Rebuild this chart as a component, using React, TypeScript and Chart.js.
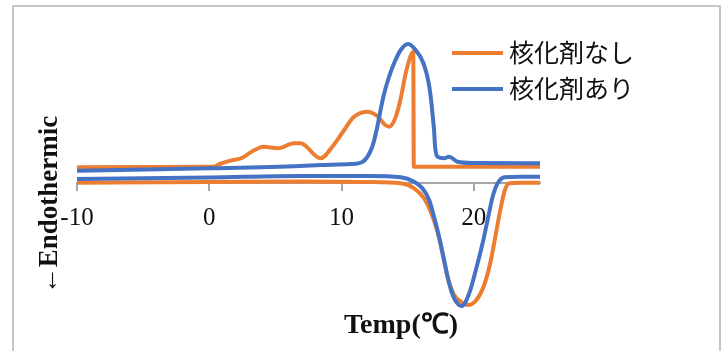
import React, { useEffect, useRef } from "react";
import { Chart, registerables } from "chart.js";

Chart.register(...registerables);

// ---- data (temperature in °C, heat flow in arbitrary units) ----
const SERIES_LABELS = ["核化剤なし", "核化剤あり"];
const X_TICKS = [-10, 0, 10, 20];
const X_TITLE = "Temp(℃)";
const Y_TITLE = "←Endothermic";

// 核化剤なし – cooling (upper) curve
const NO_COOL_T = [-10, 0.3, 0.8, 1.6, 2.5, 3.2, 4.1, 5.2, 6.4, 6.9, 8.4, 9.4, 10.2, 10.9, 11.95, 12.7, 13.3, 13.6, 14.1, 14.5, 14.85, 15.2, 15.42, 15.46, 18, 25];
const NO_COOL_V = [1.57, 1.63, 1.9, 2.23, 2.53, 3.13, 3.63, 3.47, 3.97, 3.97, 2.47, 3.8, 5.3, 6.57, 7.13, 6.7, 5.8, 5.63, 6.63, 8.63, 10.97, 12.63, 13.13, 1.63, 1.63, 1.63];

// 核化剤なし – heating (lower) curve
const NO_HEAT_T = [-10, 0, 6.9, 12, 14.47, 15.48, 16.24, 16.74, 17.25, 17.63, 18.01, 18.51, 19.02, 19.52, 20.15, 20.78, 21.29, 21.67, 22.05, 22.35, 22.67, 23.5, 25];
const NO_HEAT_V = [0.03, 0.1, 0.15, 0.1, -0.03, -0.53, -1.53, -2.87, -4.87, -7.03, -9.37, -11.2, -11.87, -12.2, -11.77, -10.2, -7.7, -5.03, -2.37, -0.7, -0.03, 0.03, 0.03];

// 核化剤あり – cooling (upper) curve
const WITH_COOL_T = [-10, 0, 6.9, 8.4, 10.7, 11.57, 12.32, 12.65, 12.9, 13.16, 13.51, 13.97, 14.47, 15.03, 15.6, 16.19, 16.54, 16.74, 16.87, 16.99, 17.07, 17.25, 17.75, 18.13, 18.77, 20, 25];
const WITH_COOL_V = [1.23, 1.47, 1.7, 1.8, 1.9, 2.1, 3.63, 5.3, 6.97, 8.63, 10.3, 11.97, 13.3, 13.9, 13.3, 11.97, 10.3, 8.63, 6.97, 5.3, 3.63, 2.63, 2.47, 2.63, 2.13, 2.0, 1.97];

// 核化剤あり – heating (lower) curve
const WITH_HEAT_T = [-10, 0, 6.9, 12, 14.47, 15.48, 16.11, 16.62, 16.99, 17.37, 17.75, 18.13, 18.51, 19.09, 19.65, 20.15, 20.66, 21.04, 21.42, 21.8, 22.3, 23.5, 25];
const WITH_HEAT_V = [0.4, 0.55, 0.7, 0.7, 0.57, 0.13, -0.53, -1.7, -3.37, -5.37, -7.7, -10.03, -11.53, -12.3, -11.03, -8.7, -6.03, -3.7, -1.37, -0.03, 0.57, 0.63, 0.63];

const ORANGE = "#ED7D31";
const BLUE = "#4472C4";
const COLORS = [ORANGE, BLUE];

const pts = (t: number[], v: number[]) => t.map((x, i) => ({ x, y: v[i] }));

const decoPlugin = {
  id: "deco",
  beforeDraw(chart: any) {
    const ctx = chart.ctx;
    ctx.save();
    ctx.fillStyle = "#ffffff";
    ctx.fillRect(0, 0, chart.width, chart.height);
    ctx.strokeStyle = "#c6c6c6";
    ctx.lineWidth = 2;
    ctx.strokeRect(13, 6, 707, 400);
    ctx.restore();
  },
  afterDraw(chart: any) {
    const ctx = chart.ctx;
    ctx.save();
    // legend
    const rows = [52, 88];
    SERIES_LABELS.forEach((label, i) => {
      ctx.strokeStyle = COLORS[i];
      ctx.lineWidth = 4;
      ctx.beginPath();
      ctx.moveTo(452, rows[i] + 1);
      ctx.lineTo(503, rows[i] + 1);
      ctx.stroke();
      ctx.fillStyle = "#111";
      ctx.font = '25px "Noto Sans CJK JP"';
      ctx.textAlign = "left";
      ctx.textBaseline = "middle";
      ctx.fillText(label, 509, rows[i]);
    });
    // x title
    ctx.fillStyle = "#111";
    ctx.font = 'bold 28px "Liberation Serif"';
    ctx.textAlign = "center";
    ctx.textBaseline = "middle";
    ctx.fillText(X_TITLE, 401, 326);
    // y title
    ctx.translate(50, 205);
    ctx.rotate(-Math.PI / 2);
    ctx.font = 'bold 27px "Liberation Serif"';
    ctx.fillText(Y_TITLE, 0, 0);
    ctx.restore();
  },
};

export default function App() {
  const ref = useRef<HTMLCanvasElement | null>(null);

  useEffect(() => {
    if (!ref.current) return;
    const ds = (label: string, data: any[], color: string, order: number) => ({
      label,
      data,
      borderColor: color,
      backgroundColor: color,
      borderWidth: 4,
      pointRadius: 0,
      showLine: true,
      fill: false,
      cubicInterpolationMode: "monotone" as const,
      order,
    });
    const chart = new Chart(ref.current, {
      type: "scatter",
      data: {
        datasets: [
          ds(SERIES_LABELS[0], pts(NO_COOL_T, NO_COOL_V), ORANGE, 1),
          ds(SERIES_LABELS[0], pts(NO_HEAT_T, NO_HEAT_V), ORANGE, 1),
          ds(SERIES_LABELS[1], pts(WITH_COOL_T, WITH_COOL_V), BLUE, 0),
          ds(SERIES_LABELS[1], pts(WITH_HEAT_T, WITH_HEAT_V), BLUE, 0),
        ],
      },
      options: {
        responsive: false,
        animation: false,
        layout: { padding: { left: 77, right: 188, top: 40, bottom: 41 } },
        plugins: {
          legend: { display: false },
          tooltip: { enabled: false },
        },
        scales: {
          x: {
            type: "linear",
            min: -10,
            max: 25,
            position: { y: 0 } as any,
            afterBuildTicks: (scale: any) => {
              scale.ticks = X_TICKS.map((v) => ({ value: v }));
            },
            grid: {
              display: true,
              drawOnChartArea: false,
              drawTicks: true,
              tickLength: 7,
              color: "#a6a6a6",
              lineWidth: 2,
            },
            border: { display: true, color: "#a6a6a6", width: 2 },
            ticks: {
              color: "#111",
              font: { family: '"Liberation Serif"', size: 25 },
              padding: 13,
              maxRotation: 0,
            },
          },
          y: {
            type: "linear",
            min: -12.7,
            max: 14.3,
            display: false,
          },
        },
      },
      plugins: [decoPlugin],
    });
    return () => chart.destroy();
  }, []);

  return (
    <div style={{ position: "absolute", left: 0, top: 0, width: 728, height: 351 }}>
      <canvas ref={ref} width={728} height={351} style={{ display: "block" }} />
    </div>
  );
}
